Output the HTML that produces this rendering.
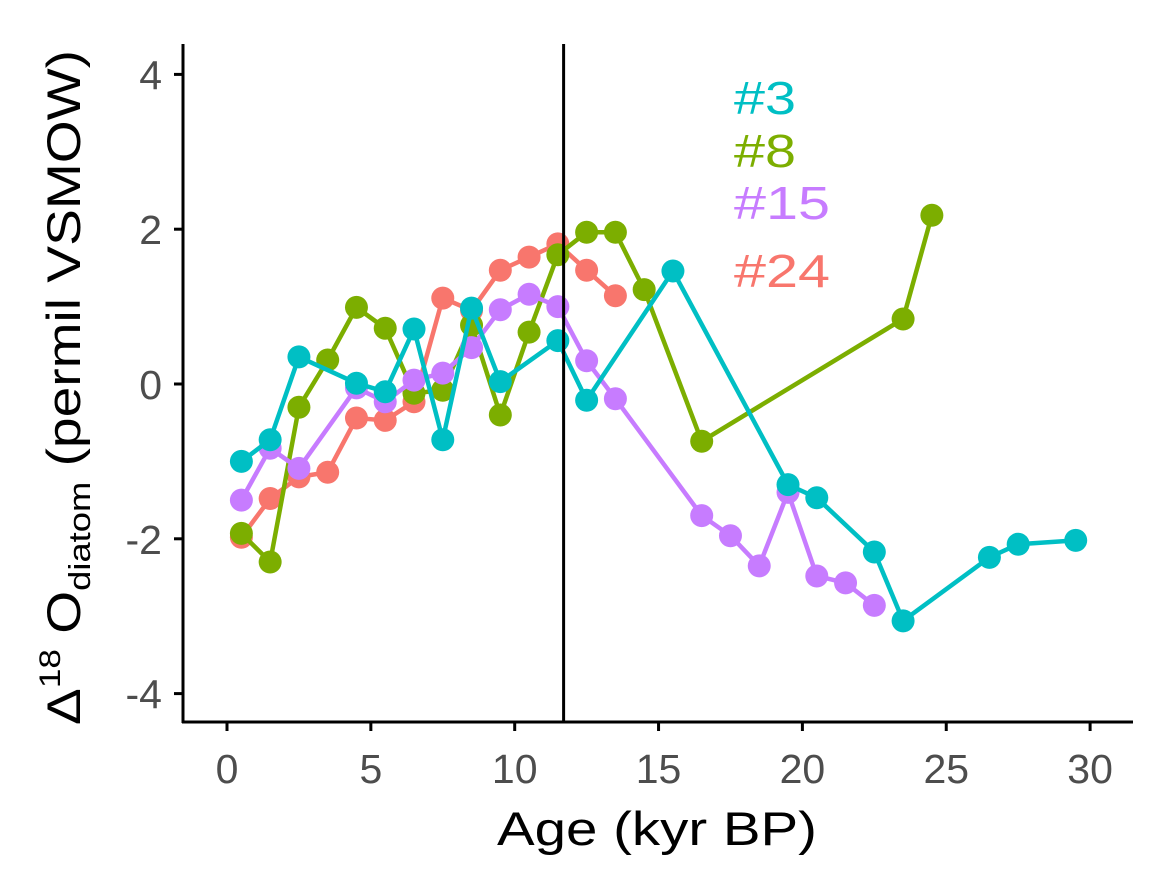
<!DOCTYPE html>
<html><head><meta charset="utf-8"><style>
html,body{margin:0;padding:0;background:#fff;}
svg{display:block;font-family:"Liberation Sans",sans-serif;}
</style></head><body>
<svg id="chart" width="1156" height="881">
<line x1="183" y1="44" x2="183" y2="723" stroke="#000" stroke-width="3"/>
<line x1="182" y1="722" x2="1133" y2="722" stroke="#000" stroke-width="3"/>
<g id="ticks"></g>
<g id="series"></g>
<line id="vline" stroke="#000" stroke-width="3"/>
<text x="497" y="845" font-size="47" textLength="320" lengthAdjust="spacingAndGlyphs" fill="#000">Age (kyr BP)</text>
<text transform="translate(80,725) rotate(-90)" font-size="47" fill="#000" textLength="675" lengthAdjust="spacingAndGlyphs">Δ<tspan font-size="30" dy="-20">18</tspan><tspan dy="20"> O</tspan><tspan font-size="31" dy="10">diatom</tspan><tspan dy="-10">   (permil VSMOW)</tspan></text>
<g font-size="46">
<text x="734" y="114" fill="#00BFC4" textLength="62" lengthAdjust="spacingAndGlyphs">#3</text>
<text x="734" y="167" fill="#7CAE00" textLength="62" lengthAdjust="spacingAndGlyphs">#8</text>
<text x="734" y="219" fill="#C77CFF" textLength="96" lengthAdjust="spacingAndGlyphs">#15</text>
<text x="734" y="287" fill="#F8766D" textLength="96" lengthAdjust="spacingAndGlyphs">#24</text>
</g>
</svg>
<script>
const xTicks=[0,5,10,15,20,25,30];
const yTicks=[4,2,0,-2,-4];
const vlineAge=11.7;
const ages3=[0.5,1.5,2.5,4.5,5.5,6.5,7.5,8.5,9.5,11.5,12.5,15.5,19.5,20.5,22.5,23.5,26.5,27.5,29.5];
const vals3=[-1.0,-0.72,0.35,0.01,-0.1,0.71,-0.72,0.98,0.03,0.56,-0.21,1.46,-1.30,-1.47,-2.17,-3.06,-2.24,-2.07,-2.02];
const ages8=[0.5,1.5,2.5,3.5,4.5,5.5,6.5,7.5,8.5,9.5,10.5,11.5,12.5,13.5,14.5,16.5,23.5,24.5];
const vals8=[-1.93,-2.30,-0.30,0.31,0.99,0.72,-0.12,-0.08,0.76,-0.40,0.67,1.67,1.96,1.96,1.22,-0.74,0.84,2.18];
const ages15=[0.5,1.5,2.5,4.5,5.5,6.5,7.5,8.5,9.5,10.5,11.5,12.5,13.5,16.5,17.5,18.5,19.5,20.5,21.5,22.5];
const vals15=[-1.5,-0.83,-1.09,-0.05,-0.23,0.05,0.14,0.47,0.96,1.16,1.0,0.3,-0.19,-1.70,-1.96,-2.35,-1.40,-2.48,-2.57,-2.86];
const ages24=[0.5,1.5,2.5,3.5,4.5,5.5,6.5,7.5,8.5,9.5,10.5,11.5,12.5,13.5];
const vals24=[-1.98,-1.48,-1.2,-1.14,-0.44,-0.47,-0.23,1.11,0.95,1.47,1.64,1.81,1.47,1.14];
const NS="http://www.w3.org/2000/svg";
const X=a=>227+a*28.77;
const Y=v=>384-v*77.4;
const tg=document.getElementById('ticks');
function mk(tag,attrs,parent){const e=document.createElementNS(NS,tag);for(const k in attrs)e.setAttribute(k,attrs[k]);parent.appendChild(e);return e;}
xTicks.forEach(t=>{
 const l=mk('line',{x1:X(t),x2:X(t),y1:722,y2:731,stroke:'#000','stroke-width':3},tg);
 
 
 const tx=mk('text',{x:X(t),y:783,'font-size':41,fill:'#4d4d4d','text-anchor':'middle'},tg);
 tx.textContent=t;
 
 
});
yTicks.forEach(t=>{
 const l=mk('line',{x1:174,x2:183,y1:Y(t),y2:Y(t),stroke:'#000','stroke-width':3},tg);
 
 
 const tx=mk('text',{x:162,y:Y(t)+15,'font-size':41,fill:'#4d4d4d','text-anchor':'end'},tg);
 tx.textContent=t;
 
 
});
const sg=document.getElementById('series');
function draw(ages,vals,color,name){
 const g=mk('g',{},sg);
 
 
 const p=mk('polyline',{points:ages.map((a,i)=>X(a)+','+Y(vals[i])).join(' '),fill:'none',stroke:color,'stroke-width':4.5,'stroke-linejoin':'round'},g);
 
 
 ages.forEach((a,i)=>{
  const c=mk('circle',{cx:X(a),cy:Y(vals[i]),r:11.5,fill:color},g);
  
  
 });
}
draw(ages24,vals24,'#F8766D','series-24');
draw(ages8,vals8,'#7CAE00','series-8');
draw(ages15,vals15,'#C77CFF','series-15');
draw(ages3,vals3,'#00BFC4','series-3');
const vl=document.getElementById('vline');
vl.setAttribute('x1',X(vlineAge));vl.setAttribute('x2',X(vlineAge));
vl.setAttribute('y1',44);vl.setAttribute('y2',722);
</script>
</body></html>
